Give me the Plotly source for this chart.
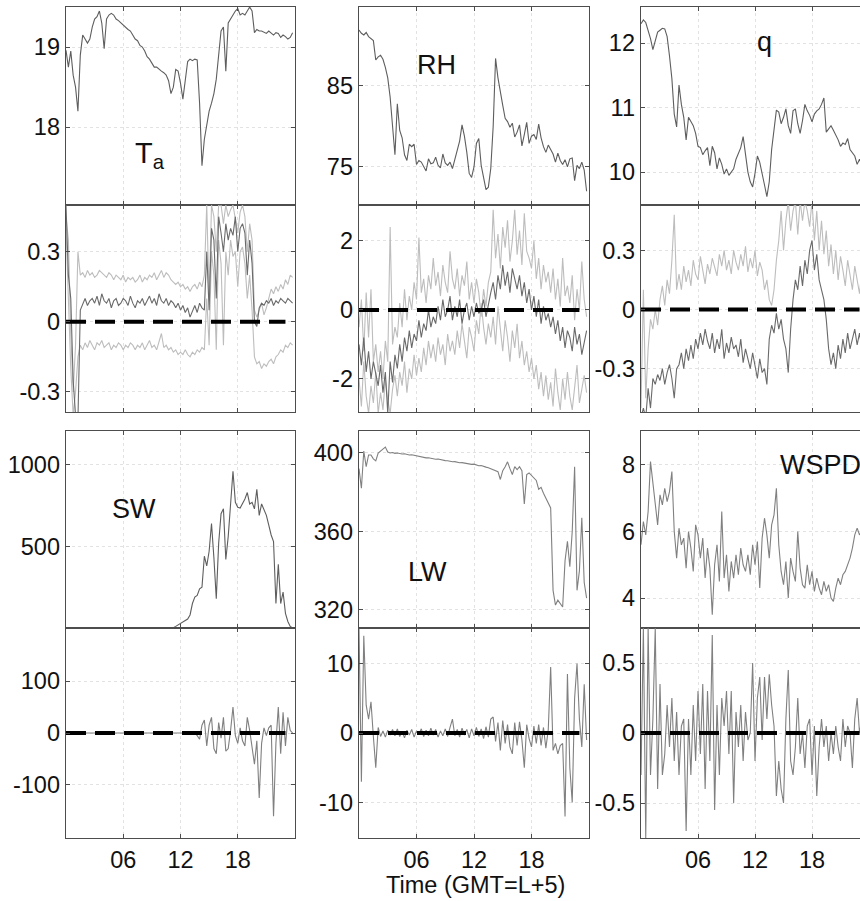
import plotly.graph_objects as go

# ---------------- sampling grid (hours, GMT) ----------------
TIME_STEP_H = 0.25
N_SAMPLES = 96
time_h = [i * TIME_STEP_H for i in range(N_SAMPLES)]
zero_line_t = [0, 23]

# ---------------- row 1 : means ----------------
ta = [18.96, 18.75, 18.95, 18.65, 18.5, 18.2, 18.9, 19.15, 19.1, 19.05, 19.1, 19.25,
      19.35, 19.38, 19.45, 19.3, 18.98, 19.35, 19.4, 19.42, 19.4, 19.35, 19.33, 19.3,
      19.28, 19.25, 19.22, 19.2, 19.15, 19.1, 19.08, 19.02, 19.0, 18.95, 18.88, 18.85,
      18.8, 18.75, 18.75, 18.72, 18.7, 18.68, 18.65, 18.58, 18.42, 18.5, 18.72, 18.7,
      18.55, 18.35, 18.6, 18.82, 18.85, 18.83, 18.85, 18.84, 18.3, 17.52, 17.85, 18.05,
      18.2, 18.3, 18.42, 18.6, 18.95, 19.2, 19.25, 18.7, 19.3, 19.35, 19.4, 19.45,
      19.48, 19.4, 19.42, 19.4, 19.45, 19.5, 19.45, 19.18, 19.22, 19.2, 19.2, 19.18,
      19.17, 19.2, 19.18, 19.15, 19.18, 19.17, 19.12, 19.15, 19.13, 19.1, 19.12, 19.18]

rh = [91.9, 91.5, 91.3, 91.6, 91.1, 90.9, 90.6, 88.2, 88.6, 88.8, 88.3, 87.3,
      86.0, 83.6, 80.5, 76.5, 82.8, 79.5, 78.6, 76.5, 75.8, 77.8, 77.5, 77.8,
      75.3, 75.8, 75.6, 75.0, 74.5, 76.0, 75.4, 75.5, 76.2, 75.2, 74.9, 76.6,
      75.5, 75.2, 75.6, 74.8, 76.0, 77.0, 78.2, 80.2, 78.8, 76.8, 74.2, 73.7,
      75.0, 77.9, 78.5, 75.2, 73.9, 72.2, 72.5, 74.8, 80.0, 88.4, 86.0, 84.0,
      82.6, 81.0, 80.6, 79.9, 80.4, 78.7, 79.3, 80.2, 77.6, 79.0, 80.5, 77.9,
      78.8, 79.0, 78.4, 80.3, 78.6, 77.5, 76.8, 77.7, 77.2, 76.6, 75.6, 76.7,
      75.8, 75.3, 75.9, 75.0, 76.0, 76.1, 73.3, 75.2, 74.8, 75.6, 74.6, 72.0]

q = [12.3, 12.36, 12.32, 12.2, 12.07, 11.9, 12.05, 12.17, 12.2, 12.23, 12.22, 12.1,
     11.8, 11.45, 10.9, 10.7, 11.35, 11.05, 10.85, 10.5, 10.85, 10.78, 10.72, 10.6,
     10.4, 10.38, 10.27, 10.33, 10.38, 10.1, 10.4, 10.3, 10.05, 10.22, 10.12, 9.97,
     10.05, 9.95, 10.0, 10.05, 10.2, 10.28, 10.38, 10.55, 10.25, 10.0, 9.85, 9.77,
     9.98, 10.25, 10.15, 9.95, 9.8, 9.62, 9.85, 10.35, 10.7, 10.96, 10.93, 10.75,
     10.85, 10.98, 10.72, 10.6, 10.95, 10.98, 10.75, 10.6, 10.8, 11.05, 10.95, 10.88,
     10.78, 10.9, 10.95, 10.98, 11.05, 11.15, 10.62, 10.68, 10.72, 10.65, 10.58, 10.5,
     10.4, 10.45, 10.43, 10.52, 10.35, 10.3, 10.25, 10.12, 10.2, 10.1, 10.15, 10.08]

# ---------------- row 2 : differences ----------------
ta_diff_upper = [0.45, 0.35, -0.05, -0.3, -0.1, 0.3, 0.2, 0.21, 0.19, 0.22, 0.2, 0.21,
                 0.19, 0.2, 0.22, 0.21, 0.2, 0.19, 0.21, 0.2, 0.18, 0.2, 0.19, 0.18,
                 0.2, 0.17, 0.19, 0.18, 0.19, 0.17, 0.18, 0.2, 0.17, 0.19, 0.18, 0.2,
                 0.19, 0.21, 0.18, 0.2, 0.22, 0.19, 0.21, 0.2, 0.18, 0.17, 0.16, 0.17,
                 0.15, 0.16, 0.14, 0.15, 0.13, 0.15, 0.16, 0.14, 0.17, 0.15, 0.2, 0.5,
                 0.1, 0.5, 0.45, 0.3, 0.5, 0.5, 0.42, 0.5, 0.45, 0.48, 0.5, 0.44,
                 0.38, 0.47, 0.5, 0.45, 0.3, 0.42, 0.35, 0.05, 0.02, 0.05, 0.08, 0.03,
                 0.06, 0.1, 0.14, 0.12, 0.15, 0.13, 0.16, 0.14, 0.18, 0.16, 0.2, 0.19]
ta_diff_mid = [0.5, 0.2, 0.1, -0.25, -0.4, -0.42, 0.05, 0.08, 0.1, 0.07, 0.09, 0.1,
               0.08, 0.11, 0.07, 0.12, 0.09, 0.08, 0.1, 0.06, 0.09, 0.1, 0.07, 0.08,
               0.1, 0.09, 0.07, 0.11, 0.08, 0.06, 0.09, 0.08, 0.1, 0.07, 0.09, 0.11,
               0.08, 0.1, 0.07, 0.12, 0.09, 0.08, 0.1, 0.07, 0.09, 0.08, 0.06, 0.08,
               0.05, 0.07, 0.04, 0.06, 0.02, 0.05, 0.07, 0.04, 0.08, 0.06, 0.05, 0.3,
               0.05, 0.4, 0.35, 0.1, 0.45, 0.38, 0.3, 0.42, 0.35, 0.4, 0.37, 0.45,
               0.3, 0.4, 0.42, 0.38, 0.2, 0.35, 0.25, 0.0, -0.02, 0.06, 0.08, 0.07,
               0.09, 0.08, 0.1, 0.07, 0.09, 0.08, 0.1, 0.09, 0.08, 0.1, 0.09, 0.08]
ta_diff_lower = [0.4, 0.1, -0.2, -0.4, -0.3, -0.15, -0.1, -0.12, -0.09, -0.11, -0.08, -0.1,
                 -0.12, -0.09, -0.1, -0.08, -0.11, -0.1, -0.09, -0.12, -0.1, -0.11, -0.09, -0.1,
                 -0.12, -0.1, -0.11, -0.09, -0.1, -0.12, -0.1, -0.11, -0.09, -0.12, -0.1, -0.08,
                 -0.11, -0.1, -0.12, -0.09, -0.05, -0.11, -0.1, -0.12, -0.11, -0.13, -0.12, -0.14,
                 -0.13, -0.14, -0.12, -0.14, -0.15, -0.13, -0.14, -0.12, -0.13, -0.11, -0.12, 0.1,
                 -0.1, 0.3, 0.2, -0.12, 0.35, 0.25, -0.1, 0.3, 0.2, 0.35, 0.28, 0.3,
                 0.15, 0.3, 0.32, 0.25, 0.1, 0.2, 0.05, -0.15, -0.18, -0.17, -0.2, -0.18,
                 -0.19, -0.17, -0.16, -0.18, -0.15, -0.14, -0.12, -0.13, -0.1, -0.11, -0.09, -0.1]

rh_diff_upper = [-0.5, 0.3, -1.2, 0.5, -0.8, 0.6, -1.5, -1.0,
                 -1.8, -1.2, -2.0, -0.9, -1.5, 2.4, -1.0, -0.5,
                 -0.8, 0.2, -0.5, 0.6, -0.3, 0.4, 0.0, 0.8,
                 0.3, 2.1, 0.5, 0.9, 0.2, 1.0, 0.6, 1.5,
                 0.7, 1.1, 0.4, 1.3, 0.8, 0.5, 1.7, 0.9,
                 0.6, 1.2, 0.4, 1.0, 0.7, 1.4, 0.3, 0.8,
                 0.2, 0.9, 0.5, -0.2, 0.6, 0.1, 0.8, 1.1,
                 2.9, 1.5, 2.2, 1.2, 2.4, 1.8, 2.6, 1.4,
                 2.0, 2.9, 1.6, 2.3, 1.3, 2.8, 1.7, 1.5,
                 1.2, 2.0, 0.9, 1.5, 0.6, 1.3, 0.8, 1.1,
                 0.5, 1.2, 0.3, 0.9, 0.1, 1.5, 0.4, 0.7,
                 0.2, 1.0, -0.3, 0.6, 0.0, 1.4, 0.3, -0.2]
rh_diff_mid = [-1.0, -1.6, -0.8, -1.8, -1.2, -2.0, -1.5, -1.9,
               -2.2, -1.6, -2.4, -1.8, -3.0, -1.5, -2.1, -1.3,
               -1.7, -1.0, -1.5, -0.8, -1.2, -0.6, -1.1, -0.7,
               -0.9, -0.3, -0.8, -0.4, -0.6, 0.0, -0.5, -0.2,
               -0.4, 0.1, -0.3, 0.3, -0.2, 0.0, 0.4, -0.3,
               0.1, -0.2, 0.3, -0.4, 0.0, 0.2, -0.3, 0.1,
               -0.2, 0.2, -0.1, 0.0, 0.3, -0.2, 0.2, 0.5,
               0.8, 0.3, 1.0, 0.6, 1.3, 0.7, 1.1, 0.5,
               1.2, 0.9, 0.6, 1.0, 0.4, 0.8, 0.2, 0.6,
               0.0, 0.4, -0.2, 0.3, -0.4, 0.1, -0.3, -0.1,
               -0.5, -0.2, -0.7, -0.3, -0.9, -0.5, -1.1, -0.6,
               -0.8, -1.2, -0.5, -1.0, -0.7, -1.3, -0.9, -0.6]
rh_diff_lower = [-2.0, -2.8, -1.5, -2.5, -3.0, -2.2, -2.7, -1.8,
                 -3.0, -2.4, -2.9, -2.0, -2.6, -3.0, -2.3, -1.9,
                 -2.5, -1.8, -2.2, -1.5, -2.4, -1.7, -2.0, -1.3,
                 -1.9, -1.4, -1.8, -1.1, -1.6, -0.9, -1.4, -1.0,
                 -1.5, -0.8, -1.3, -1.0, -1.6, -0.7, -1.2, -0.9,
                 -1.3, -0.6, -1.1, -0.4, -0.9, -1.4, -0.5, -0.8,
                 -1.2, -0.3, -0.7, 0.2, -0.5, -1.0, -0.4, -0.8,
                 -0.2, -1.0, 0.1, -0.6, -1.2, -0.3, -0.8, -1.5,
                 -0.6, -1.1, -0.4, -1.4, -0.9, -1.6, -1.2, -1.8,
                 -1.4, -2.0, -1.6, -2.3, -1.8, -2.5, -1.9, -2.6,
                 -2.1, -2.8, -1.7, -2.4, -2.9, -2.0, -2.6, -1.8,
                 -2.5, -2.9, -2.2, -1.6, -2.7, -2.3, -1.9, -2.4]

q_diff_upper = [-0.5, 0.1, -0.45, -0.2, -0.05, -0.1, 0.0, -0.08,
                0.05, 0.12, 0.02, 0.15, 0.08, 0.25, 0.48, 0.1,
                0.18, 0.1, 0.22, 0.14, 0.2, 0.12, 0.25, 0.18,
                0.15, 0.27, 0.2, 0.13, 0.23, 0.18, 0.26, 0.21,
                0.17, 0.28, 0.22, 0.3, 0.2, 0.25, 0.18, 0.3,
                0.24, 0.2, 0.28, 0.22, 0.32, 0.19, 0.26, 0.21,
                0.3, 0.17, 0.24, 0.2, 0.1, 0.15, 0.05, 0.02,
                0.1, 0.25, 0.35, 0.5, 0.3, 0.45, 0.55, 0.4,
                0.5, 0.55, 0.38, 0.55, 0.45, 0.55, 0.5, 0.42,
                0.55, 0.35, 0.5, 0.3, 0.45, 0.28, 0.4, 0.22,
                0.33, 0.18, 0.3, 0.15, 0.27, 0.2, 0.12, 0.25,
                0.18, 0.1, 0.22, 0.15, 0.08, 0.2, 0.12, 0.15]
q_diff_lower = [-0.55, -0.5, -0.55, -0.4, -0.5, -0.35, -0.38, -0.33,
                -0.36, -0.3, -0.38, -0.32, -0.28, -0.35, -0.45, -0.3,
                -0.28, -0.22, -0.3, -0.2, -0.26, -0.18, -0.25, -0.15,
                -0.2, -0.12, -0.18, -0.1, -0.16, -0.2, -0.12, -0.22,
                -0.15, -0.2, -0.1, -0.25, -0.17, -0.22, -0.14, -0.2,
                -0.18, -0.24, -0.15, -0.27, -0.2, -0.25, -0.3, -0.22,
                -0.28, -0.35, -0.25, -0.32, -0.3, -0.38, -0.15, -0.08,
                -0.12, -0.02, -0.1, -0.05, -0.15, -0.2, -0.32, -0.1,
                0.05, 0.15, 0.1, 0.22, 0.12, 0.25, 0.18, 0.3,
                0.35, 0.2, 0.28, 0.15, 0.1, 0.05, -0.05, -0.2,
                -0.28, -0.22, -0.3, -0.18, -0.25, -0.15, -0.22, -0.12,
                -0.2, -0.15, -0.1, -0.18, -0.12, -0.2, -0.15, -0.1]

# ---------------- row 3 : radiation and wind ----------------
sw = [0] * 45 + [2, 10, 20, 30, 35, 45, 55, 80, 150, 190, 200, 240, 250, 440, 380, 470,
                 640, 430, 180, 520, 700, 730, 420, 560, 780, 960, 770, 740, 735, 760,
                 790, 830, 760, 770, 730, 850, 690, 760, 720, 690, 630, 570, 530, 150,
                 390, 150, 220, 90, 40, 10, 0]

lw = [392, 382, 401, 393, 399, 399, 397, 396, 400, 401, 402, 403,
      400.5, 400, 400.2, 399.8, 400, 399.7, 399.5, 399.6, 399.3, 399, 399.1, 398.8,
      398.6, 398.2, 398, 397.8, 397.5, 397.6, 397.2, 397, 396.8, 396.9, 396.5, 396.3,
      396.1, 396, 395.7, 395.5, 395.6, 395.2, 395, 395.1, 394.8, 394.6, 394.5, 394.2,
      394.3, 393.9, 393.5, 393.6, 393, 392.8, 392.5, 392, 391.5, 390.8, 390.5, 386.5,
      391, 393, 395.5, 392, 389, 393, 391.5, 393, 391, 374, 389, 389.8,
      388.5, 387.5, 386, 381.5, 382.5, 379.5, 377, 375, 372, 330, 322.5, 325,
      323, 321.5, 345, 355, 342, 360, 393, 330, 340, 367, 334, 326]

wspd = [5.6, 6.3, 5.9, 6.6, 8.1, 7.5, 6.9, 6.2, 7.1, 6.8, 7.3, 6.9,
        7.2, 7.8, 6.0, 5.2, 6.1, 5.6, 5.8, 4.9, 6.0, 5.5, 4.8, 6.2,
        5.9, 5.2, 5.8, 4.6, 5.5, 4.9, 3.5, 5.0, 5.6, 4.5, 6.6, 4.6,
        5.3, 4.2, 5.1, 4.6, 5.3, 4.7, 5.5, 5.0, 4.8, 5.3, 4.7, 5.6,
        5.0, 5.7, 4.3, 5.8, 6.4, 5.9, 5.2, 6.2, 6.5, 7.3, 5.6, 4.8,
        4.4, 5.1, 4.0, 5.2, 4.8, 4.5, 6.0, 4.9, 4.4, 4.3, 5.0, 4.4,
        4.8, 4.2, 4.6, 4.3, 4.1, 4.5, 4.2, 4.4, 4.0, 3.9, 4.3, 4.6,
        4.4, 4.7, 4.8, 5.0, 5.2, 5.5, 5.9, 6.1, 5.9, 6.0, 6.2, 6.1]

# ---------------- row 4 : differences ----------------
sw_diff = [0] * 55 + [-5, -12, 15, 25, -25, 15, 30, -30, -40, 20, -10, 30, -35, -30, 5,
                      50, -5, -20, 10, -15, -25, 30, 5, -25, -60, -15, -125, -20, 10,
                      -5, 10, 15, -160, -20, 50, -40, 40, -25, 30, 5, 0]

lw_diff = [15, -7, 14, 4, 2, 4.5, -0.5, -5, 0.8, -0.5, 0.3, -0.6,
           0.4, -0.3, 0.5, -0.4, 0.6, -0.5, 0.2, -0.7, 0.4, -0.3, 0.5, -0.6,
           0.3, -0.2, 0.6, -0.5, 0.4, -0.4, 0.7, -0.3, 0.5, -0.6, 0.3, -0.4,
           0.6, -0.5, 0.8, 2.0, -0.4, 0.5, -0.6, 0.7, -0.3, 0.5, -0.7, 0.6,
           -0.4, 0.8, -0.5, 0.6, -0.8, 0.9, -0.6, 2.0, 2.3, -1.2, 1.5, -2.5,
           1.8, -1.5, 1.2, -2.0, -3.0, 1.5, -1.8, 1.6, -1.0, -5.0, 1.2, -0.8,
           -2.0, 1.0, -1.5, 1.2, -1.8, 0.8, -2.2, 0.5, 9.5, -2.5, -1.5, -3.0,
           -1.8, -1.5, -12, 8.5, -5, -10, 5, 10, 2, -2, 7, -1]

wspd_diff = [-0.3, 0.75, -0.75, 0.75, -0.3, 0.1, 0.75, -0.4, 0.35, -0.3, -0.15, 0.2,
             -0.1, 0.25, -0.2, 0.15, -0.3, 0.05, 0.1, -0.7, 0.1, -0.3, 0.2, -0.2,
             0.3, -0.15, 0.35, -0.4, 0.3, -0.2, 0.7, -0.55, 0.2, -0.3, 0.25, 0.05,
             0.3, -0.15, 0.3, -0.5, 0.15, -0.1, 0.2, -0.2, 0.15, -0.05, 0.0, 0.5,
             -0.2, 0.25, 0.4, -0.05, 0.4, 0.1, 0.42, 0.2, 0.05, -0.45, -0.2, -0.4,
             -0.5, 0.1, 0.45, -0.2, -0.3, -0.1, 0.25, -0.15, 0.0, -0.25, 0.05, 0.1,
             -0.3, 0.05, -0.45, -0.1, 0.1, -0.1, 0.05, -0.2, 0.0, -0.15, 0.05, -0.1,
             -0.2, 0.1, -0.1, 0.05, 0.0, -0.25, 0.1, 0.25, 0.0, 0.1, -0.05, 0.1]

# ---------------- tick labels ----------------
x_tickvals = [6, 12, 18]
x_ticktext = ["06", "12", "18"]

# ---------------- styling ----------------
FONT = "Arial, 'Liberation Sans', Helvetica, sans-serif"
TICK_SIZE = 23.5
LABEL_SIZE = 27
AX_COLOR = "#4d4d4d"
GRID = "#e2e2e2"
MAIN = "#5e5e5e"
LIGHT = "#bdbdbd"
DARK = "#6a6a6a"
DIFF = "#808080"

W, H = 860, 901
col_px = [(66, 295), (359, 589), (641, 860)]
row_px = [(7, 205), (205, 412), (431, 628), (628, 838)]

panels = [
    # row 1
    dict(r=0, c=0, series=[(ta, MAIN)], yr=[17.03, 19.5], tv=[18, 19], tt=["18", "19"]),
    dict(r=0, c=1, series=[(rh, MAIN)], yr=[70.3, 94.75], tv=[75, 85], tt=["75", "85"]),
    dict(r=0, c=2, series=[(q, MAIN)], yr=[9.49, 12.56], tv=[10, 11, 12], tt=["10", "11", "12"]),
    # row 2
    dict(r=1, c=0, series=[(ta_diff_upper, LIGHT), (ta_diff_lower, LIGHT), (ta_diff_mid, DARK)],
         yr=[-0.386, 0.5], tv=[-0.3, 0, 0.3], tt=["-0.3", "0", "0.3"], zero=True),
    dict(r=1, c=1, series=[(rh_diff_upper, LIGHT), (rh_diff_lower, LIGHT), (rh_diff_mid, DARK)],
         yr=[-2.96, 3.04], tv=[-2, 0, 2], tt=["-2", "0", "2"], zero=True),
    dict(r=1, c=2, series=[(q_diff_upper, LIGHT), (q_diff_lower, DARK)],
         yr=[-0.52, 0.53], tv=[-0.3, 0, 0.3], tt=["-0.3", "0", "0.3"], zero=True),
    # row 3
    dict(r=2, c=0, series=[(sw, MAIN)], yr=[0, 1207], tv=[500, 1000], tt=["500", "1000"]),
    dict(r=2, c=1, series=[(lw, DIFF)], yr=[310.8, 411.2], tv=[320, 360, 400], tt=["320", "360", "400"]),
    dict(r=2, c=2, series=[(wspd, DIFF)], yr=[3.1, 9.02], tv=[4, 6, 8], tt=["4", "6", "8"]),
    # row 4
    dict(r=3, c=0, series=[(sw_diff, DIFF)], yr=[-202, 202], tv=[-100, 0, 100], tt=["-100", "0", "100"], zero=True),
    dict(r=3, c=1, series=[(lw_diff, DIFF)], yr=[-15.1, 15.1], tv=[-10, 0, 10], tt=["-10", "0", "10"], zero=True),
    dict(r=3, c=2, series=[(wspd_diff, DIFF)], yr=[-0.75, 0.75], tv=[-0.5, 0, 0.5], tt=["-0.5", "0", "0.5"], zero=True),
]

fig = go.Figure()
layout = dict(
    width=W, height=H,
    margin=dict(l=0, r=0, t=0, b=0),
    paper_bgcolor="white", plot_bgcolor="white",
    showlegend=False,
    font=dict(family=FONT, size=TICK_SIZE, color="#111111"),
)

for k, p in enumerate(panels, start=1):
    r, c = p["r"], p["c"]
    x0, x1 = col_px[c]
    y0, y1 = row_px[r]
    xa = "x" if k == 1 else f"x{k}"
    ya = "y" if k == 1 else f"y{k}"
    for vals, colr in p["series"]:
        fig.add_trace(go.Scatter(x=time_h[:len(vals)], y=vals, mode="lines",
                                 line=dict(color=colr, width=1.1),
                                 xaxis=xa, yaxis=ya, hoverinfo="skip"))
    if p.get("zero"):
        fig.add_trace(go.Scatter(x=zero_line_t, y=[0, 0], mode="lines",
                                 line=dict(color="black", width=4, dash="20px,9px"),
                                 xaxis=xa, yaxis=ya, hoverinfo="skip"))
    last_col = (c == 2)
    layout[f"xaxis{k}" if k > 1 else "xaxis"] = dict(
        domain=[x0 / W, x1 / W], anchor=ya,
        range=[0, 23.05] if last_col else [0, 24],
        tickvals=x_tickvals, ticktext=x_ticktext,
        showticklabels=(r == 3),
        ticks="inside", ticklen=4, tickcolor=AX_COLOR,
        showline=True, linecolor=AX_COLOR, linewidth=1.3, mirror="ticks",
        showgrid=True, gridcolor=GRID, griddash="dot", gridwidth=1,
        zeroline=False, fixedrange=True,
        tickfont=dict(family=FONT, size=TICK_SIZE, color="#111111"),
    )
    layout[f"yaxis{k}" if k > 1 else "yaxis"] = dict(
        domain=[1 - y1 / H, 1 - y0 / H], anchor=xa,
        range=p["yr"], tickvals=p["tv"], ticktext=p["tt"],
        ticks="inside", ticklen=4, tickcolor=AX_COLOR,
        showline=True, linecolor=AX_COLOR, linewidth=1.3,
        mirror=False if last_col else "ticks",
        showgrid=True, gridcolor=GRID, griddash="dot", gridwidth=1,
        zeroline=False, fixedrange=True,
        tickfont=dict(family=FONT, size=TICK_SIZE, color="#111111"),
    )

def ann(text, px, py, size=LABEL_SIZE, xanchor="center"):
    return dict(text=text, x=px / W, y=1 - py / H, xref="paper", yref="paper",
                xanchor=xanchor, yanchor="middle", showarrow=False,
                font=dict(family=FONT, size=size, color="#111111"))

layout["annotations"] = [
    ann("T<sub>a</sub>", 150, 155, size=29),
    ann("RH", 437, 65),
    ann("q", 764, 42),
    ann("SW", 134, 509),
    ann("LW", 427, 572),
    ann("WSPD", 778, 465, xanchor="left"),
    ann("Time (GMT=L+5)", 475, 885, size=TICK_SIZE),
]

fig.update_layout(**layout)
fig.write_html("out.html", config={"displayModeBar": False, "staticPlot": True},
               post_script="document.body.style.margin='0';document.body.style.overflow='hidden';")
